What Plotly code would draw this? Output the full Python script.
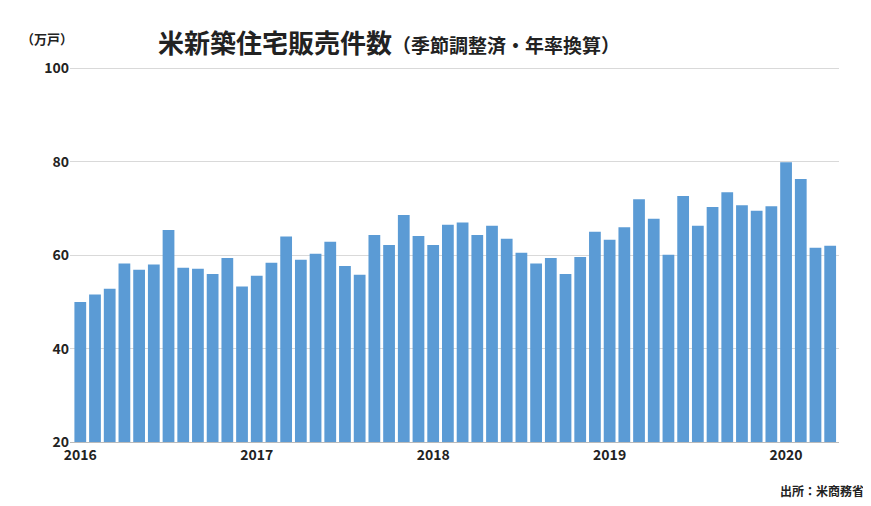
import plotly.graph_objects as go

# monthly new home sales, Jan 2016 - Apr 2020 (10k units, SAAR)
values = [50, 51.6, 52.8, 58.2, 56.9, 58, 65.4, 57.3, 57.1, 56, 59.4, 53.3,
          55.6, 58.4, 64, 59, 60.3, 62.9, 57.7, 55.8, 64.3, 62.2, 68.6, 64.1,
          62.2, 66.5, 67, 64.3, 66.3, 63.5, 60.5, 58.2, 59.4, 56, 59.6, 65,
          63.3, 66, 72, 67.8, 60.1, 72.7, 66.3, 70.3, 73.5, 70.7, 69.5, 70.5,
          79.9, 76.3, 61.6, 62]
year_labels = ["2016", "2017", "2018", "2019", "2020"]
idx = list(range(len(values)))

font = "Noto Sans CJK JP"
fig = go.Figure(go.Bar(x=idx, y=values, marker_color="#5B9BD5",
                       marker_line_width=0, width=0.8))
fig.update_layout(
    width=871, height=506, plot_bgcolor="white", paper_bgcolor="white",
    margin=dict(l=62, r=40, t=59, b=72), showlegend=False,
    font=dict(family=font, color="#222", size=14),
)
fig.update_xaxes(range=[-0.7, 51.6], tickvals=[0, 12, 24, 36, 48], ticktext=year_labels,
                 showgrid=False, showline=True, linecolor="#bbb", ticks="",
                 tickfont=dict(size=14, family=font, weight="bold"))
fig.update_yaxes(range=[20, 100.3], tickvals=[20, 40, 60, 80, 100], showgrid=True,
                 gridcolor="#d9d9d9", zeroline=False,
                 tickfont=dict(size=14, family=font, weight="bold"))
fig.add_annotation(x=0.112, y=1.067, xref="paper", yref="paper", xanchor="left", yanchor="middle",
                   showarrow=False,
                   text="<b><span style='font-size:26px'>米新築住宅販売件数</span>"
                        "<span style='font-size:19px'>（季節調整済・年率換算）</span></b>",
                   font=dict(family=font, color="#222"))
fig.add_annotation(x=-0.03, y=1.077, xref="paper", yref="paper", xanchor="center", yanchor="middle",
                   showarrow=False, text="<b>（万戸）</b>", font=dict(size=13, family=font))
fig.add_annotation(x=1.035, y=-0.128, xref="paper", yref="paper", xanchor="right", yanchor="middle",
                   showarrow=False, text="<b>出所：米商務省</b>", font=dict(size=12, family=font))
fig.write_html("out.html")
